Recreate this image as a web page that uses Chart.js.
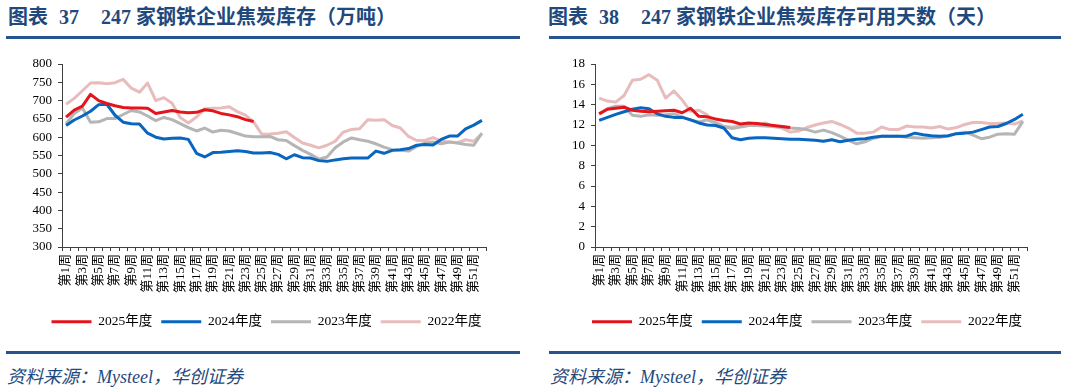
<!DOCTYPE html>
<html>
<head>
<meta charset="utf-8">
<script src="https://cdn.jsdelivr.net/npm/chart.js@4.4.1/dist/chart.umd.min.js"></script>
<style>
    html, body { margin: 0; padding: 0; background: #fff; }
    body { position: relative; width: 1066px; height: 389px; overflow: hidden; }
    .title {
        position: absolute; top: 4px; white-space: nowrap;
        font: bold 20px 'Liberation Serif', 'Noto Sans CJK SC', serif;
        color: #1F497D; line-height: 26px;
    }
    .title .num { margin-left: 11px; margin-right: 22px; }
    .rule { position: absolute; height: 3px; background: #27548F; }
    .source {
        position: absolute; top: 362px;
        font: italic 18px 'Liberation Serif', 'Noto Sans CJK SC', serif;
        color: #1F497D;
    }
    .box { position: absolute; top: 50px; width: 533px; height: 290px; }
</style>
</head>
<body>
<div class="title" style="left:8px">图表<span class="num">37</span>247 家钢铁企业焦炭库存（万吨）</div>
<div class="title" style="left:548px">图表<span class="num">38</span>247 家钢铁企业焦炭库存可用天数（天）</div>
<div class="rule" style="left:6px; top:36px; width:514px"></div>
<div class="rule" style="left:549px; top:36px; width:512px"></div>

<div class="box" style="left:0"><canvas id="stockChart"></canvas></div>
<div class="box" style="left:533px"><canvas id="daysChart"></canvas></div>

<div class="rule" style="left:6px; top:351px; width:514px"></div>
<div class="rule" style="left:549px; top:351px; width:512px"></div>
<div class="source" style="left:7px">资料来源：Mysteel，华创证券</div>
<div class="source" style="left:550px">资料来源：Mysteel，华创证券</div>

<script>
// ── Data ────────────────────────────────────────────────────────────────────
const weeks = [];
for (let i = 1; i <= 52; i++) weeks.push('第' + i + '周');

const seriesNames = ['2025年度', '2024年度', '2023年度', '2022年度'];

// 焦炭库存（万吨）
const stock2025 = [655, 674, 685, 717, 700, 692, 686, 681, 680, 680, 679, 665, 669, 673, 669, 667, 668, 675, 672, 665,
    661, 656, 648, 643];
const stock2024 = [632, 647, 658, 671, 689, 690, 660, 641, 637, 636, 611, 600, 595, 597, 598, 594, 556, 546, 558, 559,
    561, 563, 561, 557, 557, 558, 553, 541, 552, 544, 543, 536, 534, 538, 541, 543, 543, 543, 562, 556,
    564, 566, 569, 578, 580, 579, 594, 603, 603, 623, 633, 646];
const stock2023 = [636, 665, 680, 641, 642, 651, 651, 662, 673, 669, 658, 645, 654, 648, 637, 626, 617, 625, 614, 619,
    617, 610, 603, 601, 601, 602, 593, 591, 577, 564, 553, 540, 546, 571, 587, 598, 593, 589, 582, 573,
    566, 564, 562, 575, 584, 587, 582, 587, 584, 580, 578, 611];
const stock2022 = [690, 706, 727, 748, 749, 746, 749, 758, 734, 723, 748, 700, 708, 693, 654, 639, 655, 678, 679, 680,
    683, 670, 660, 642, 608, 609, 611, 615, 599, 584, 578, 571, 578, 589, 614, 621, 623, 648, 646, 648,
    632, 625, 602, 591, 591, 599, 589, 587, 585, 593, 589, 610];

// 焦炭库存可用天数（天）
const days2025 = [13.1, 13.55, 13.65, 13.75, 13.45, 13.35, 13.3, 13.35, 13.4, 13.45, 13.2, 13.65, 12.85, 12.8, 12.6,
    12.45, 12.35, 12.1, 12.2, 12.15, 12.05, 11.95, 11.85, 11.75];
const days2024 = [12.45, 12.75, 13.05, 13.3, 13.55, 13.7, 13.6, 13.1, 12.85, 12.75, 12.75, 12.5, 12.2, 12.0, 11.95,
    11.7, 10.75, 10.55, 10.7, 10.75, 10.75, 10.7, 10.65, 10.6, 10.6, 10.55, 10.5, 10.4, 10.55, 10.35,
    10.5, 10.6, 10.65, 10.8, 10.9, 10.9, 10.9, 10.9, 11.2, 11.05, 10.95, 10.9, 10.95, 11.15, 11.2,
    11.3, 11.55, 11.8, 11.85, 12.15, 12.55, 13.05];
const days2023 = [13.1, 13.6, 13.85, 13.85, 12.95, 12.85, 13.0, 12.95, 13.0, 13.1, 12.8, 12.5, 12.3, 12.5, 12.2,
    11.85, 11.65, 11.8, 11.95, 11.95, 11.9, 11.85, 11.8, 11.7, 11.65, 11.55, 11.3, 11.5, 11.25, 10.9,
    10.5, 10.15, 10.35, 10.7, 10.9, 10.9, 10.9, 10.8, 10.75, 10.7, 10.75, 10.8, 10.9, 11.15, 11.3,
    11.0, 10.65, 10.8, 11.1, 11.15, 11.1, 12.35];
const days2022 = [14.65, 14.35, 14.25, 14.9, 16.4, 16.5, 16.95, 16.4, 14.65, 15.35, 14.45, 13.35, 13.45, 13.0, 12.3,
    11.85, 11.8, 11.9, 11.95, 11.95, 12.2, 11.85, 11.7, 11.3, 11.4, 11.75, 12.0, 12.2, 12.35, 12.05,
    11.7, 11.2, 11.2, 11.3, 11.8, 11.55, 11.55, 11.9, 11.8, 11.8, 11.7, 11.85, 11.6, 11.75, 12.05,
    12.25, 12.25, 12.15, 12.15, 12.2, 12.1, 12.4];

// ── Styling ─────────────────────────────────────────────────────────────────
const lineColors = ['#E5141B', '#0866C0', '#B5B5B5', '#E8BCBC'];
const axisColor = '#404040';
const tickFont = { family: "'Liberation Serif', 'Noto Sans CJK SC', serif", size: 13 };

function makeChart(canvasId, series, yMin, yMax, yStep, opts) {
    const ctx = document.getElementById(canvasId);
    return new Chart(ctx, {
        type: 'line',
        data: {
            labels: weeks,
            datasets: series.map((data, i) => ({
                label: seriesNames[i],
                data: data,
                borderColor: lineColors[i],
                backgroundColor: lineColors[i],
                borderWidth: 3,
                pointRadius: 0,
                tension: 0,
                borderJoinStyle: 'round'
            }))
        },
        options: {
            responsive: true,
            maintainAspectRatio: false,
            animation: false,
            layout: { padding: { top: 14, bottom: 1.5, left: opts.padLeft, right: 0 } },
            plugins: {
                tooltip: { enabled: false },
                legend: {
                    position: 'bottom',
                    labels: {
                        boxWidth: 40,
                        boxHeight: 3,
                        padding: 9,
                        color: '#000',
                        font: { family: "'Liberation Serif', 'Noto Sans CJK SC', serif", size: 13.5 },
                        generateLabels: (chart) => Chart.defaults.plugins.legend.labels.generateLabels(chart)
                            .map(item => Object.assign(item, { lineWidth: 0 }))
                    }
                }
            },
            scales: {
                x: {
                    offset: true,
                    grid: { offset: true, drawOnChartArea: false, tickLength: 4, color: axisColor },
                    border: { color: axisColor },
                    ticks: {
                        autoSkip: false, maxRotation: 90, minRotation: 90, padding: 3,
                        color: '#000', font: tickFont,
                        callback: function (val, idx) { return idx % 2 === 0 ? this.getLabelForValue(val) : ''; }
                    },
                    afterFit: (scale) => { scale.height = 59; }
                },
                y: {
                    min: yMin, max: yMax,
                    grid: { drawOnChartArea: false, tickLength: 4, color: axisColor },
                    border: { color: axisColor },
                    ticks: { stepSize: yStep, autoSkip: false, padding: 6, color: '#000', font: tickFont },
                    afterFit: (scale) => { scale.width = opts.axisWidth; }
                },
                // blank right-hand spacer so the legend stays centred on the canvas
                spacer: {
                    position: 'right',
                    display: true,
                    grid: { display: false },
                    border: { display: false },
                    ticks: { display: false },
                    afterFit: (scale) => { scale.width = opts.rightGap; }
                }
            }
        }
    });
}

makeChart('stockChart', [stock2025, stock2024, stock2023, stock2022], 300, 800, 50,
    { padLeft: 0, axisWidth: 62, rightGap: 47 });
makeChart('daysChart', [days2025, days2024, days2023, days2022], 0, 18, 2,
    { padLeft: 15, axisWidth: 47, rightGap: 39 });
</script>
</body>
</html>
